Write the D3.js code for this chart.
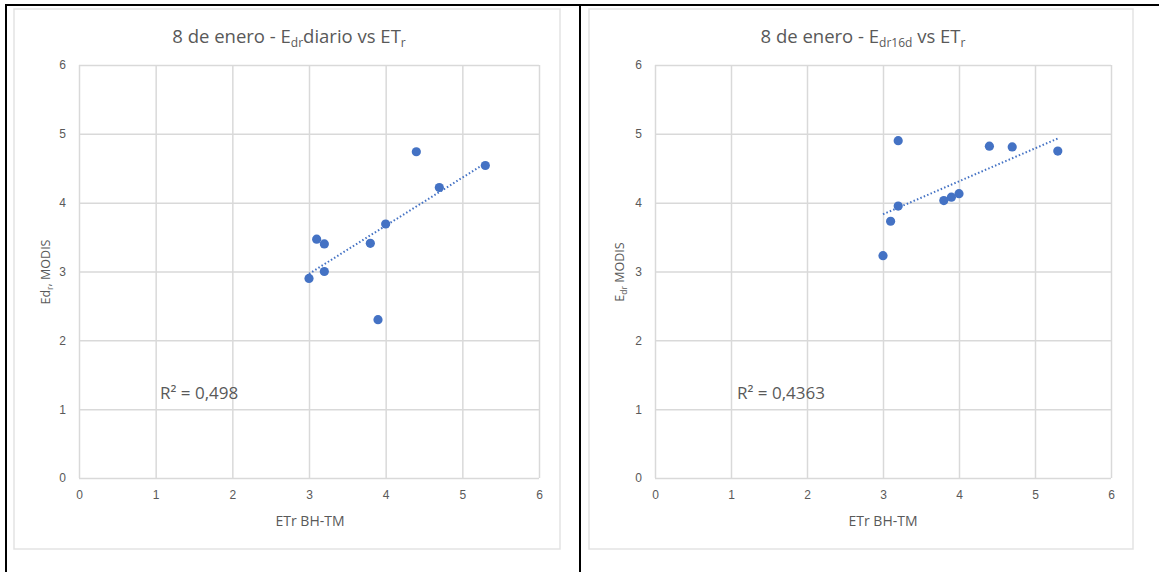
<!DOCTYPE html>
<html><head><meta charset="utf-8">
<script src="https://cdn.jsdelivr.net/npm/d3@7"></script>
<style>
body{margin:0;background:#fff;}
svg{display:block;font-family:"Open Sans",sans-serif;}
</style></head>
<body><svg id="c" width="1159" height="572"></svg>
<script>
// ---- data ----
const xTicks = [0,1,2,3,4,5,6];
const yTicks = [0,1,2,3,4,5,6];
const leftX = [3.0,3.1,3.2,3.2,3.8,4.0,3.9,4.4,4.7,5.3];
const leftY = [2.90,3.47,3.40,3.00,3.41,3.69,2.30,4.74,4.22,4.54];
const rightX = [3.2,4.4,4.7,5.3,4.0,3.9,3.8,3.2,3.1,3.0];
const rightY = [4.90,4.82,4.81,4.75,4.13,4.08,4.03,3.95,3.73,3.23];
const leftR2 = "R² = 0,498";
const rightR2 = "R² = 0,4363";
const xLabel = "ETr BH-TM";

const svg = d3.select("#c");
const txt = "#595959", grid = "#d9d9d9", blue = "#4472c4";

function drawChart(o){
  const g = svg.append("g");
  // chart frame
  g.append("rect").attr("x",o.fx).attr("y",9).attr("width",o.fw).attr("height",540)
    .attr("fill","#fff").attr("stroke","#e3e3e3").attr("stroke-width",1.5);
  const x = d3.scaleLinear().domain([0,6]).range([o.x0,o.x1]);
  const y = d3.scaleLinear().domain([0,6]).range([478,65]);
  // gridlines
  const gx = g.append("g").attr("transform","translate(0,478)")
    .call(d3.axisBottom(x).tickValues(xTicks).tickSize(-(478-65)).tickFormat(d=>d).tickPadding(12));
  gx.select(".domain").remove();
  gx.selectAll("line").attr("stroke",grid).attr("stroke-width",1.5);
  gx.selectAll("text").attr("fill",txt).attr("font-size",12);
  const gy = g.append("g").attr("transform",`translate(${o.x0},0)`)
    .call(d3.axisLeft(y).tickValues(yTicks).tickSize(-(o.x1-o.x0)).tickFormat(d=>d).tickPadding(13));
  gy.select(".domain").remove();
  gy.selectAll("line").attr("stroke",grid).attr("stroke-width",1.5);
  gy.selectAll("text").attr("fill",txt).attr("font-size",12);
  // trendline (least squares)
  const xs=o.xs, ys=o.ys, n=xs.length;
  const mx=d3.mean(xs), my=d3.mean(ys);
  let sxy=0,sxx=0; for(let i=0;i<n;i++){sxy+=(xs[i]-mx)*(ys[i]-my); sxx+=(xs[i]-mx)**2;}
  const b=sxy/sxx, a=my-b*mx;
  const [xmin,xmax]=d3.extent(xs);
  g.append("line").attr("x1",x(xmin)).attr("y1",y(a+b*xmin)).attr("x2",x(xmax)).attr("y2",y(a+b*xmax))
    .attr("stroke",blue).attr("stroke-width",2).attr("stroke-dasharray","1.5,2.2").attr("stroke-linecap","butt");
  // points
  g.selectAll("circle.p").data(d3.range(n)).join("circle").attr("class","p")
    .attr("cx",i=>x(xs[i])).attr("cy",i=>y(ys[i])).attr("r",4.6).attr("fill",blue);
  // title
  const t = g.append("text").attr("x",o.tx).attr("y",43).attr("text-anchor","middle")
    .attr("fill",txt).attr("font-size",18.5);
  o.title.forEach(p=>{
    const s=t.append("tspan").text(p[0]);
    if(p[1]){ s.attr("font-size",12).attr("baseline-shift","-4"); }
  });
  // x label
  g.append("text").attr("x",o.lx).attr("y",526).attr("text-anchor","middle")
    .attr("fill",txt).attr("font-size",14).text(xLabel);
  // y label
  const yl = g.append("text").attr("transform",`translate(${o.yx},272) rotate(-90)`).attr("text-anchor","middle")
    .attr("fill",txt).attr("font-size",12.5);
  o.ylab.forEach(p=>{
    const s=yl.append("tspan").text(p[0]);
    if(p[1]){ s.attr("font-size",8.5).attr("baseline-shift","-3"); }
  });
  // R2
  g.append("text").attr("x",o.rx).attr("y",399).attr("fill",txt).attr("font-size",17).text(o.r2);
}

drawChart({fx:14,fw:546,x0:79,x1:539,xs:leftX,ys:leftY,tx:289,lx:310,yx:50,rx:160,r2:leftR2,
  title:[["8 de enero - E"],["dr",1],["diario vs ET"],["r",1]],
  ylab:[["Ed"],["r",1],[", MODIS"]]});
drawChart({fx:589,fw:544,x0:655,x1:1111,xs:rightX,ys:rightY,tx:863,lx:883,yx:624,rx:737,r2:rightR2,
  title:[["8 de enero - E"],["dr16d",1],[" vs ET"],["r",1]],
  ylab:[["E"],["dr",1],[" MODIS"]]});

// black table borders
svg.append("line").attr("x1",5).attr("y1",5).attr("x2",1159).attr("y2",5).attr("stroke","#000").attr("stroke-width",2);
svg.append("line").attr("x1",6).attr("y1",4).attr("x2",6).attr("y2",572).attr("stroke","#000").attr("stroke-width",2);
svg.append("line").attr("x1",580).attr("y1",4).attr("x2",580).attr("y2",572).attr("stroke","#000").attr("stroke-width",2);
</script></body></html>
